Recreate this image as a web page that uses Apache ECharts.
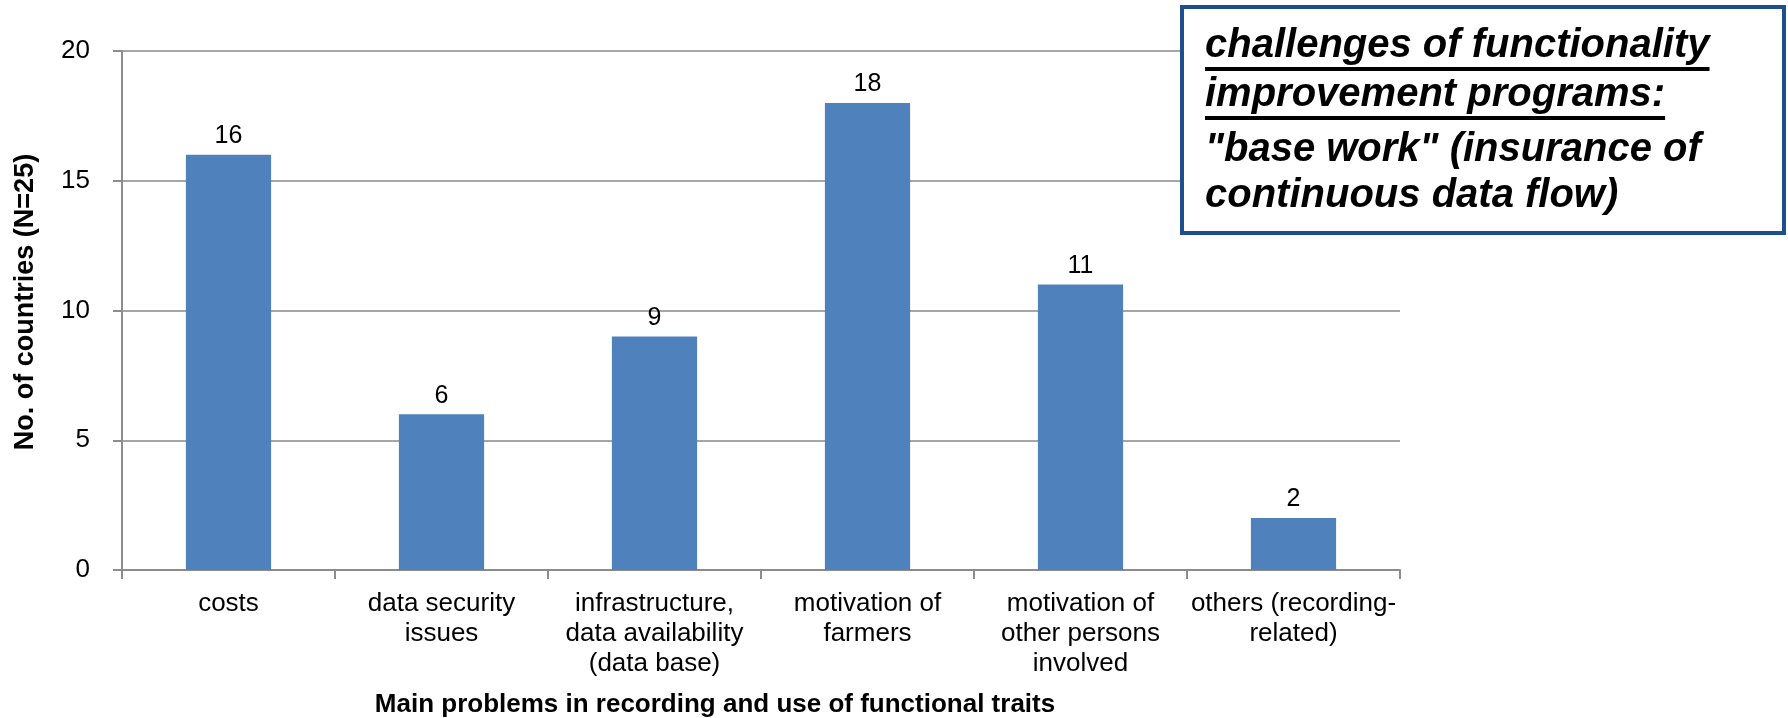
<!DOCTYPE html>
<html>
<head>
<meta charset="utf-8">
<script src="https://cdn.jsdelivr.net/npm/echarts@6/dist/echarts.min.js"></script>
<style>
  html, body { margin: 0; padding: 0; background: #ffffff; }
  #chart { width: 1788px; height: 718px; }
</style>
</head>
<body>
<div id="chart"></div>
<script>
// Survey categories and number of countries naming each problem
const categories = [
  'costs',
  'data security\nissues',
  'infrastructure,\ndata availability\n(data base)',
  'motivation of\nfarmers',
  'motivation of\nother persons\ninvolved',
  'others (recording-\nrelated)'
];
const countries = [16, 6, 9, 18, 11, 2];
const yTicks = [0, 5, 10, 15, 20];

const yAxisTitle = 'No. of countries (N=25)';
const xAxisTitle = 'Main problems in recording and use of functional traits';
const boxLines = [
  { text: 'challenges of functionality', underline: true },
  { text: 'improvement programs:', underline: true },
  { text: '"base work" (insurance of', underline: false },
  { text: 'continuous data flow)', underline: false }
];

const FONT = '"Liberation Sans", Arial, sans-serif';
const boxFont = 'italic bold 40px ' + FONT;

// measure text width for underline lengths
const measureCtx = document.createElement('canvas').getContext('2d');
measureCtx.font = boxFont;

const boxX = 1182, boxY = 7, boxW = 602, boxH = 226;
const textX = 1205;
const lineCenters = [46, 95, 150, 196];

const graphics = [
  {
    type: 'rect',
    shape: { x: boxX, y: boxY, width: boxW, height: boxH },
    style: { fill: '#ffffff', stroke: '#1F4E8C', lineWidth: 4 },
    z: 10
  },
  {
    type: 'text',
    x: 715, y: 705,
    style: {
      text: xAxisTitle,
      font: 'bold 26px ' + FONT,
      fill: '#000000',
      textAlign: 'center',
      textVerticalAlign: 'middle'
    }
  },
  {
    type: 'text',
    x: 26, y: 302,
    rotation: Math.PI / 2,
    style: {
      text: yAxisTitle,
      font: 'bold 27px ' + FONT,
      fill: '#000000',
      textAlign: 'center',
      textVerticalAlign: 'middle'
    }
  }
];

boxLines.forEach((ln, i) => {
  graphics.push({
    type: 'text',
    x: textX, y: lineCenters[i],
    z: 11,
    style: {
      text: ln.text,
      font: boxFont,
      fill: '#000000',
      textAlign: 'left',
      textVerticalAlign: 'middle'
    }
  });
  if (ln.underline) {
    const w = measureCtx.measureText(ln.text).width;
    graphics.push({
      type: 'line',
      z: 11,
      shape: { x1: textX, y1: lineCenters[i] + 23, x2: textX + w, y2: lineCenters[i] + 23 },
      style: { stroke: '#000000', lineWidth: 4 }
    });
  }
});

const chart = echarts.init(document.getElementById('chart'), null, { renderer: 'canvas' });
chart.setOption({
  backgroundColor: '#ffffff',
  animation: false,
  grid: { left: 122, right: 388, top: 51, bottom: 148, containLabel: false },
  xAxis: {
    type: 'category',
    data: categories,
    axisLine: { lineStyle: { color: '#8c8c8c', width: 2 } },
    axisTick: { show: true, length: 9, alignWithLabel: false, lineStyle: { color: '#8c8c8c', width: 2 } },
    axisLabel: {
      interval: 0,
      margin: 19,
      color: '#000000',
      fontFamily: FONT,
      fontSize: 26,
      lineHeight: 30
    }
  },
  yAxis: {
    type: 'value',
    min: yTicks[0],
    max: yTicks[yTicks.length - 1],
    interval: yTicks[1] - yTicks[0],
    axisLine: { show: true, lineStyle: { color: '#8c8c8c', width: 2 } },
    axisTick: { show: true, length: 9, lineStyle: { color: '#8c8c8c', width: 2 } },
    axisLabel: { margin: 32, color: '#000000', fontFamily: FONT, fontSize: 26 },
    splitLine: { show: true, lineStyle: { color: '#a6a6a6', width: 2 } }
  },
  series: [{
    type: 'bar',
    data: countries,
    barWidth: '40%',
    itemStyle: { color: '#4F81BD' },
    label: {
      show: true,
      position: 'top',
      distance: 6,
      color: '#000000',
      fontFamily: FONT,
      fontSize: 25
    }
  }],
  graphic: graphics
});
</script>
</body>
</html>
